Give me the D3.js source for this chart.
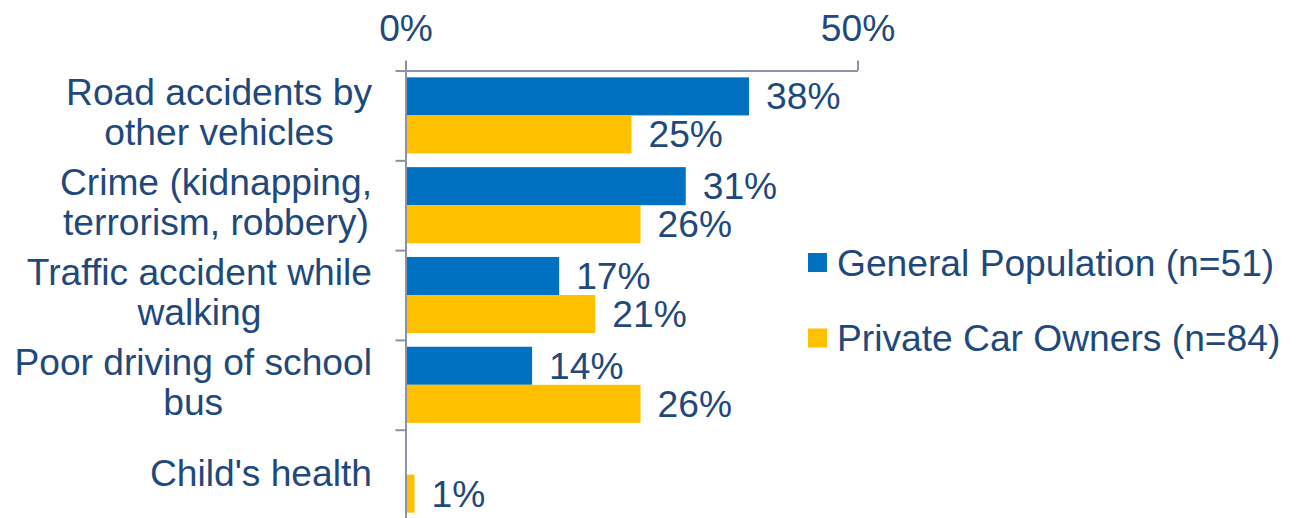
<!DOCTYPE html>
<html>
<head>
<meta charset="utf-8">
<script src="https://cdn.jsdelivr.net/npm/d3@7"></script>
<style>
  html, body { margin: 0; padding: 0; background: #fff; }
  svg { display: block; }
  text { font-family: "Liberation Sans", Arial, sans-serif; fill: #1F497D; }
</style>
</head>
<body>
<svg id="chart" width="1297" height="518"></svg>
<script>
// Perceived risks for a child's commute, by respondent group
const categories = [
  ["Road accidents by", "other vehicles"],
  ["Crime (kidnapping,", "terrorism, robbery)"],
  ["Traffic accident while", "walking"],
  ["Poor driving of school", "bus"],
  ["Child's health"]
];
const seriesNames = ["General Population (n=51)", "Private Car Owners (n=84)"];
const generalPopulation = [38, 31, 17, 14, null];
const privateCarOwners = [25, 26, 21, 26, 1];
const xTicks = [0, 50];
const colors = ["#0070C0", "#FFC000"];

const svg = d3.select("#chart");
const FONT = 37.2;
const axisColor = "#8A94A6";

const x = d3.scaleLinear().domain([0, 50]).range([405.5, 857.5]);
const catIdx = d3.range(categories.length);
const y = d3.scaleBand().domain(catIdx).range([70.5, 519.5]).paddingInner(0).paddingOuter(0);
const inner = d3.scaleBand().domain([0, 1]).range([0, y.bandwidth()]).paddingOuter(0.18).paddingInner(0);

// Bars
const series = [generalPopulation, privateCarOwners];
series.forEach((vals, s) => {
  const g = svg.append("g");
  const rows = catIdx.filter(i => vals[i] != null);
  g.selectAll("rect").data(rows).join("rect")
    .attr("x", x(0))
    .attr("y", i => y(i) + inner(s))
    .attr("width", i => x(vals[i]) - x(0))
    .attr("height", inner.bandwidth())
    .attr("fill", colors[s]);
  g.selectAll("text").data(rows).join("text")
    .attr("x", i => x(vals[i]) + 17)
    .attr("y", i => y(i) + inner(s) + inner.bandwidth() / 2)
    .attr("dy", "0.35em")
    .style("font-size", FONT + "px")
    .text(i => vals[i] + "%");
});

// Top value axis
const xAxis = d3.axisTop(x).tickValues(xTicks).tickSize(10).tickSizeOuter(0)
  .tickPadding(20).tickFormat(d => d + "%");
const gx = svg.append("g").attr("transform", "translate(0,70.5)").call(xAxis);
gx.select(".domain").attr("stroke", axisColor).attr("stroke-width", 2);
gx.selectAll(".tick line").attr("stroke", axisColor).attr("stroke-width", 2);
gx.selectAll(".tick text").style("font-size", FONT + "px").attr("fill", "#1F497D")
  .style("font-family", "'Liberation Sans', Arial, sans-serif");

// Category axis with ticks on band boundaries
const yb = d3.scaleLinear().domain([0, categories.length]).range(y.range());
const yAxis = d3.axisLeft(yb).tickValues(d3.range(categories.length + 1)).tickSize(10)
  .tickSizeOuter(0).tickFormat("");
const gy = svg.append("g").attr("transform", "translate(405.5,0)").call(yAxis);
gy.select(".domain").attr("stroke", axisColor).attr("stroke-width", 2);
gy.selectAll(".tick line").attr("stroke", axisColor).attr("stroke-width", 2);

// Category labels: lines centred on each other, block right-aligned
const labelRight = 372;
catIdx.forEach(i => {
  const lines = categories[i];
  const cy = y(i) + y.bandwidth() / 2;
  const t = svg.append("text").style("font-size", FONT + "px").attr("text-anchor", "middle");
  const spans = lines.map((ln, k) => t.append("tspan").text(ln));
  const maxW = d3.max(spans, sp => sp.node().getComputedTextLength());
  const cx = labelRight - maxW / 2;
  spans.forEach((sp, k) => {
    const base = lines.length === 1 ? cy + 11.5 : cy - 10 + k * 40;
    sp.attr("x", cx).attr("y", base);
  });
});

// Legend
const legend = svg.append("g");
const legendRows = [262.5, 338];
seriesNames.forEach((name, s) => {
  legend.append("rect").attr("x", 808).attr("y", legendRows[s] - 9.5)
    .attr("width", 19).attr("height", 19).attr("fill", colors[s]);
  legend.append("text").attr("x", 837).attr("y", legendRows[s]).attr("dy", "0.35em")
    .style("font-size", FONT + "px").text(name);
});
</script>
</body>
</html>
